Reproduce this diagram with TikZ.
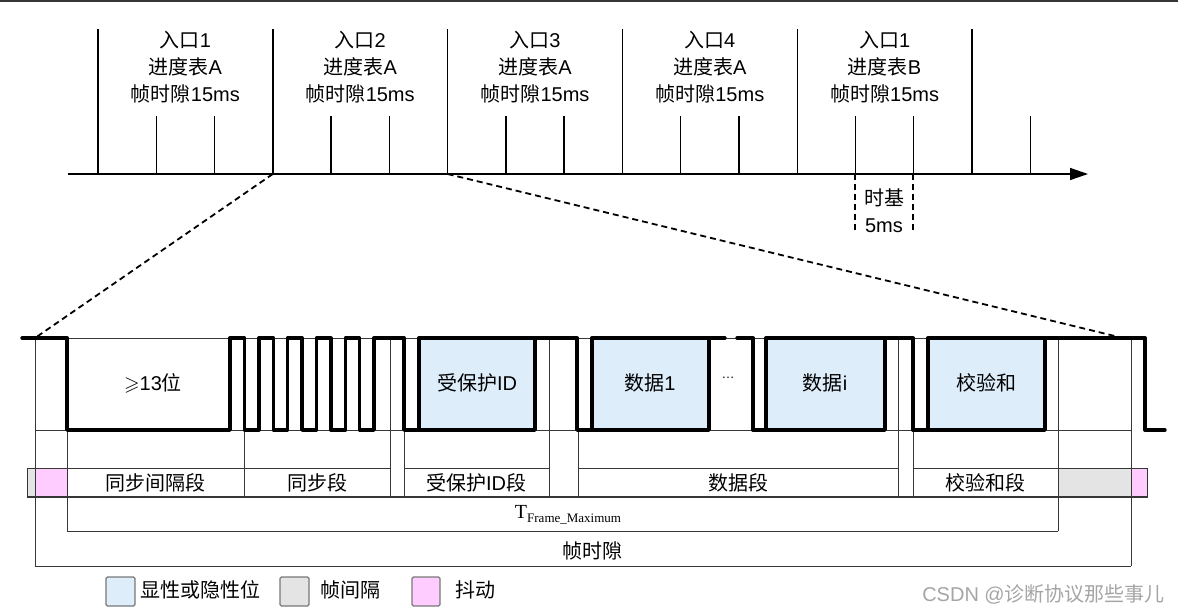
\documentclass[tikz,border=0pt]{standalone}
\usepackage{amssymb}
\usepackage{fontspec}
\setmainfont{Liberation Sans}
\newfontfamily\cjk{Noto Sans CJK SC}
\newfontfamily\timesfont{Liberation Serif}
\usetikzlibrary{arrows.meta}
\definecolor{ByteBlue}{RGB}{221,237,250}
\definecolor{GapGray}{RGB}{228,228,228}
\definecolor{JitterPink}{RGB}{255,204,255}
\definecolor{GridGray}{RGB}{55,55,55}
\definecolor{LegendGray}{RGB}{120,120,120}
\definecolor{MarkGray}{RGB}{165,165,165}

\begin{document}
\begin{tikzpicture}[x=1pt, y=-1pt,
    axisline/.style={line width=1.4pt},
    zoomline/.style={line width=1.8pt, dash pattern=on 6pt off 4pt},
    signal/.style={line width=3.4pt, line join=round, line cap=round},
    bytebox/.style={signal, fill=ByteBlue},
    grid/.style={line width=0.8pt, GridGray},
    lbl/.style={font=\fontsize{20}{27}\selectfont, align=center, inner sep=0pt},
    keybox/.style={draw=LegendGray, line width=1.3pt, rounded corners=1.5pt}]
  \useasboundingbox (0,0) rectangle (1178,614);
  \draw[line width=1.5pt, GridGray] (0,1) -- (1178,1);

  \begin{scope}
    \draw[axisline, -{Triangle[length=18pt, width=12pt]}] (68,174) -- (1088,174);
    \foreach \i in {0,...,5} {
      \draw[axisline] (98+174.8*\i,29) -- (98+174.8*\i,174);
      \draw[axisline] (156.3+174.8*\i,116) -- (156.3+174.8*\i,174);
    }
    \foreach \i in {0,...,4}
      \draw[axisline] (214.5+174.8*\i,116) -- (214.5+174.8*\i,174);
    \foreach \n/\s [count=\i] in {1/A, 2/A, 3/A, 4/A, 1/B}
      \node[lbl] (slot\i) at (10.6+174.8*\i,67) {{\cjk 入口}\n\\{\cjk 进度表}\s\\{\cjk 帧时隙}15ms};
    \draw[axisline, dash pattern=on 6pt off 4pt] (855,174) -- (855,232);
    \draw[axisline, dash pattern=on 6pt off 4pt] (913,174) -- (913,232);
    \node[lbl] (tick) at (884,211) {{\cjk 时基}\\5ms};
    \coordinate (zoomA) at (272.8,174);
    \coordinate (zoomB) at (447.6,174);
  \end{scope}

  \begin{scope}
    \coordinate (frameA) at (35,338);
    \coordinate (frameB) at (1123,338);
    \draw[zoomline] (zoomA) -- (frameA);
    \draw[zoomline] (zoomB) -- (frameB);

    \foreach \a/\b/\c in {27/35/GapGray, 35/67/JitterPink, 67/244/white, 244/390/white,
        404/549/white, 578/898/white, 913/1058/white, 1058/1131/GapGray, 1131/1147/JitterPink}
      \draw[grid, fill=\c] (\a,468) rectangle (\b,497);
    \draw[grid, line width=1.2pt] (27,497) -- (1147,497);
    \draw[grid] (35,338) -- (1131,338);
    \draw[grid] (35,430) -- (1131,430);
    \foreach \x/\y in {35/566, 1131/566, 1058/531, 390/497, 549/497, 898/497}
      \draw[grid] (\x,338) -- (\x,\y);
    \foreach \x/\y in {67/531, 244/497, 404/497, 578/497, 913/497}
      \draw[grid] (\x,430) -- (\x,\y);
    \draw[grid] (67,531) -- (1058,531);
    \draw[grid] (35,566) -- (1131,566);

    \draw[bytebox] (419,338) rectangle (535,430);
    \draw[bytebox] (592,338) rectangle (709,430);
    \draw[bytebox] (766,338) rectangle (885,430);
    \draw[bytebox] (928,338) rectangle (1045,430);
    \draw[signal] (22,338) -- (67,338) -- (67,430) -- (230,430) -- (230,338)
      \foreach \k in {1,...,5} { -- ++(14.4,0) -- ++(0,92) -- ++(14.4,0) -- ++(0,-92) }
      -- (404,338) -- (404,430) -- (419,430);
    \draw[signal] (535,338) -- (577,338) -- (577,430) -- (592,430);
    \draw[signal] (709,338) -- (725,338);
    \draw[signal] (737,338) -- (753,338) -- (753,430) -- (766,430);
    \draw[signal] (885,338) -- (913,338) -- (913,430) -- (928,430);
    \draw[signal] (1045,338) -- (1145,338) -- (1145,430) -- (1165,430);

    \node[lbl] (brk) at (153,383) {$\geqslant$13{\cjk 位}};
    \node[lbl] (pid) at (477,383) {{\cjk 受保护}ID};
    \node[lbl] (data1) at (650,383) {{\cjk 数据}1};
    \node[lbl, font=\fontsize{13}{15}\selectfont] (dots) at (728,378) {…};
    \node[lbl] (datai) at (825,383) {{\cjk 数据}i};
    \node[lbl] (chk) at (986,383) {\cjk 校验和};

    \node[lbl] (fbrk) at (155,483) {\cjk 同步间隔段};
    \node[lbl] (fsync) at (317,483) {\cjk 同步段};
    \node[lbl] (fpid) at (476,483) {{\cjk 受保护}ID{\cjk 段}};
    \node[lbl] (fdata) at (738,483) {\cjk 数据段};
    \node[lbl] (fchk) at (985,483) {\cjk 校验和段};
    \node[lbl, font=\timesfont\fontsize{20}{24}\selectfont] (tmax) at (568,515)
      {T\raisebox{-4pt}{\fontsize{13}{15}\selectfont Frame\_Maximum}};
    \node[lbl] (slot) at (592,551) {\cjk 帧时隙};
  \end{scope}

  \draw[keybox, fill=ByteBlue] (106,577) rectangle (135,606);
  \node[lbl, anchor=west] (keyA) at (140,590) {\cjk 显性或隐性位};
  \draw[keybox, fill=GapGray] (280,577) rectangle (309,606);
  \node[lbl, anchor=west] (keyB) at (320,590) {\cjk 帧间隔};
  \draw[keybox, fill=JitterPink] (412,577) rectangle (440,606);
  \node[lbl, anchor=west] (keyC) at (455,590) {\cjk 抖动};
  \node[lbl, anchor=east, text=MarkGray] (mark) at (1165,594) {CSDN @{\cjk 诊断协议那些事儿}};
\end{tikzpicture}
\end{document}
